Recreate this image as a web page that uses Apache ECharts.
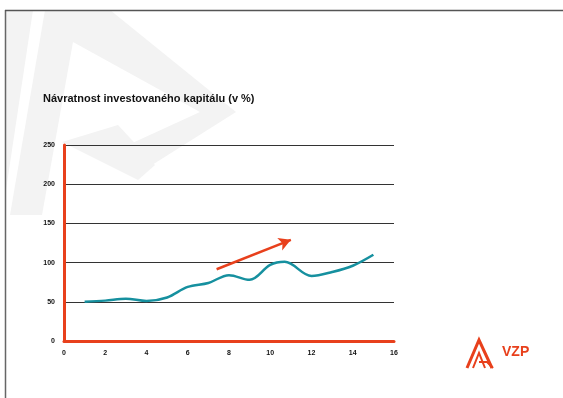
<!DOCTYPE html>
<html>
<head>
<meta charset="utf-8">
<script src="https://cdn.jsdelivr.net/npm/echarts@6/dist/echarts.min.js"></script>
<style>
  html, body { margin: 0; padding: 0; background: #fff; }
  #chart { width: 563px; height: 398px; }
</style>
</head>
<body>
<div id="chart"></div>
<script>
// hodnoty
var xValues = [1, 2, 3, 4, 5, 6, 7, 8, 9, 10, 10.7, 12, 13, 14, 15];
var roiValues = [50, 51.5, 54, 51, 55.5, 69, 74, 84, 78, 97, 101, 83, 88, 96, 110];
var trendFrom = [7.4, 91.5];
var trendTo = [11, 129];
var titleText = 'Návratnost investovaného kapitálu (v %)';

var red = '#e8401c';
var teal = '#16909f';
var wm = '#f3f3f3';

var lineData = [];
for (var i = 0; i < xValues.length; i++) {
  lineData.push([xValues[i], roiValues[i]]);
}

var chart = echarts.init(document.getElementById('chart'));
var option = {
  animation: false,
  backgroundColor: '#fff',
  title: {
    text: titleText,
    left: 38, top: 88,
    textStyle: { fontFamily: 'Liberation Sans', fontSize: 11, fontWeight: 'bold', color: '#111' }
  },
  graphic: [
    // vodoznak
    { type: 'polygon', z: -10, shape: { points: [[6,10],[33,10],[6,190]] }, style: { fill: wm } },
    { type: 'polygon', z: -10, shape: { points: [[45,10],[73,10],[73,42],[42,215],[10,215]] }, style: { fill: wm } },
    { type: 'polygon', z: -10, shape: { points: [[73,10],[110,10],[236,112],[152,165],[128,145],[200,112],[73,42]] }, style: { fill: wm } },
    { type: 'polygon', z: -10, shape: { points: [[62,142],[118,125],[155,165],[138,180]] }, style: { fill: wm } },
    // rámeček snímku
    { type: 'line', shape: { x1: 5.5, y1: 10, x2: 5.5, y2: 398 }, style: { stroke: '#666', lineWidth: 1.5 } },
    { type: 'line', shape: { x1: 5, y1: 10.5, x2: 563, y2: 10.5 }, style: { stroke: '#555', lineWidth: 1.5 } },
    // logo VZP
    { type: 'polyline', shape: { points: [[467,368],[479,340],[492,368]] }, style: { stroke: red, lineWidth: 3, fill: null } },
    { type: 'polyline', shape: { points: [[473,368],[479,353],[485,368]] }, style: { stroke: red, lineWidth: 2, fill: null } },
    { type: 'polyline', shape: { points: [[479,362],[487,362],[493,368]] }, style: { stroke: red, lineWidth: 2, fill: null } },
    { type: 'text', left: 502, top: 345, style: { text: 'VZP', fill: red, font: 'bold 14px "Liberation Sans"' } }
  ],
  grid: { left: 64, right: 169, top: 145, bottom: 57 },
  xAxis: {
    type: 'value', min: 0, max: 16, interval: 2,
    axisLine: { show: true, onZero: false, lineStyle: { color: red, width: 3 } },
    axisTick: { show: false },
    splitLine: { show: false },
    axisLabel: { color: '#111', fontSize: 7, fontWeight: 'bold', fontFamily: 'Liberation Sans', margin: 9 }
  },
  yAxis: {
    type: 'value', min: 0, max: 250, interval: 50,
    axisLine: { show: true, lineStyle: { color: red, width: 3 } },
    axisTick: { show: false },
    splitLine: { show: true, lineStyle: { color: '#333', width: 1 } },
    axisLabel: { color: '#111', fontSize: 7, fontWeight: 'bold', fontFamily: 'Liberation Sans', margin: 9 }
  },
  series: [
    {
      type: 'line',
      data: lineData,
      smooth: 0.35,
      showSymbol: false,
      lineStyle: { color: teal, width: 2.5 },
      markLine: {
        silent: true,
        symbol: ['none', 'arrow'],
        symbolSize: [10, 12],
        label: { show: false },
        lineStyle: { color: red, width: 2.5, type: 'solid' },
        data: [[{ coord: trendFrom }, { coord: trendTo }]]
      }
    }
  ]
};
chart.setOption(option);
</script>
</body>
</html>
